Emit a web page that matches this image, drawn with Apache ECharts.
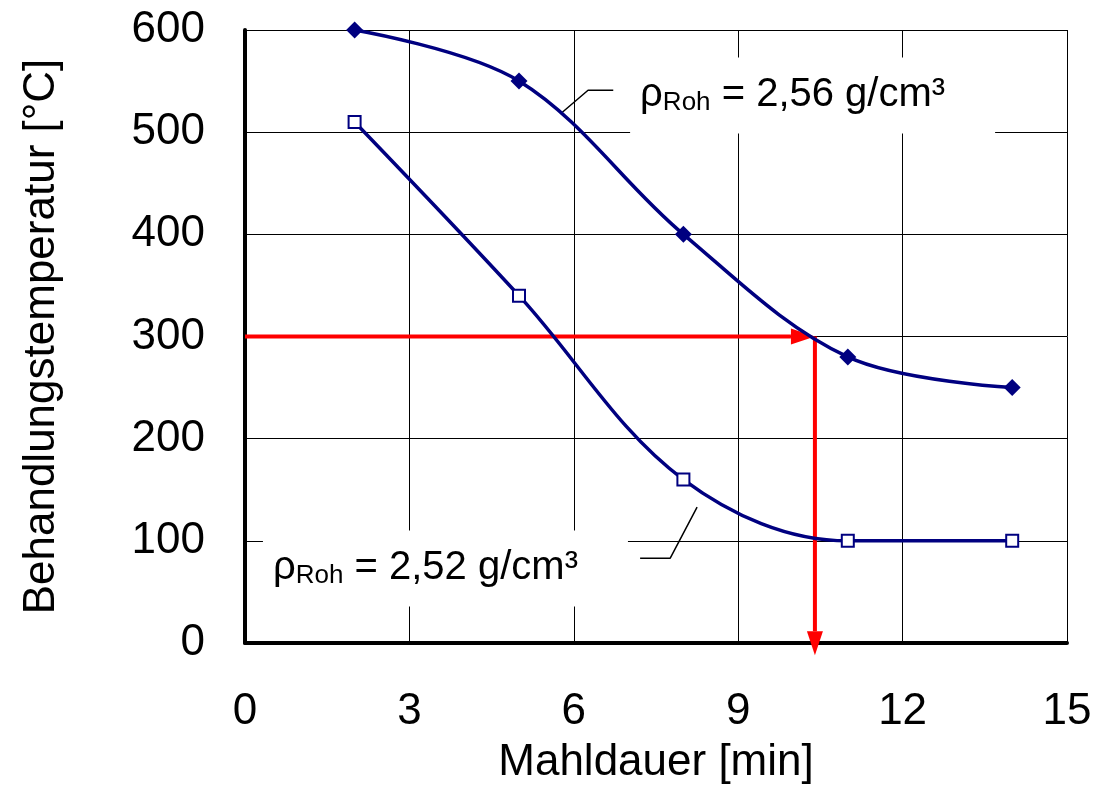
<!DOCTYPE html>
<html lang="de">

<head>
    <meta charset="UTF-8">
    <title>Behandlungstemperatur</title>
    <style>
        body {
            margin: 0;
            background: #fff;
        }

        #chart {
            width: 1102px;
            height: 798px;
        }
    </style>
</head>

<body>
    <div id="chart"></div>
    <script src="https://cdn.jsdelivr.net/npm/echarts@6/dist/echarts.min.js"></script>
    <script>
        const chart = echarts.init(document.getElementById('chart'));

        // Mahldauer [min]
        const mahldauer = [2, 5, 8, 11, 14];
        // Behandlungstemperatur [°C]
        const tempDense = [600, 550, 400, 280, 250];  // rho = 2,56
        const tempLoose = [510, 340, 160, 100, 100];  // rho = 2,52

        // red reading arrows: [x0, y0, x1, y1]
        const arrows = [
            [0, 300, 10.4, 300],
            [10.4, 300, 10.4, -12]
        ];

        // annotations
        const noteValues = ['2,56', '2,52'];
        const notePos = [[7.21, 536], [0.51, 73]];
        const leaderDense = [[5.78, 519], [6.26, 541], [6.72, 541]];
        const leaderLoose = [[8.25, 133], [7.76, 83], [7.21, 83]];

        const FONT = 'Liberation Sans, Arial, sans-serif';
        const NAVY = '#000080';

        function pairs(xs, ys) {
            return xs.map((x, i) => [x, ys[i]]);
        }

        function renderArrow(params, api) {
            const a = api.coord([api.value(0), api.value(1)]);
            const b = api.coord([api.value(2), api.value(3)]);
            const dx = b[0] - a[0];
            const dy = b[1] - a[1];
            const len = Math.sqrt(dx * dx + dy * dy);
            const ux = dx / len;
            const uy = dy / len;
            const head = 24;
            const half = 8;
            const bx = b[0] - ux * head;
            const by = b[1] - uy * head;
            return {
                type: 'group',
                children: [
                    {
                        type: 'line',
                        shape: { x1: a[0], y1: a[1], x2: bx, y2: by },
                        style: { stroke: '#ff0000', lineWidth: 4 }
                    },
                    {
                        type: 'polygon',
                        shape: {
                            points: [
                                [b[0], b[1]],
                                [bx - uy * half, by + ux * half],
                                [bx + uy * half, by - ux * half]
                            ]
                        },
                        style: { fill: '#ff0000' }
                    }
                ]
            };
        }

        function renderNote(params, api) {
            const p = api.coord([api.value(0), api.value(1)]);
            const val = noteValues[params.dataIndex];
            // white box behind the text, like the text frame in the original
            return {
                type: 'text',
                x: p[0] - 10,
                y: p[1],
                style: {
                    text: '{r|ρ}{s|Roh}{r| = ' + val + ' g/cm³}',
                    align: 'left',
                    verticalAlign: 'middle',
                    fill: '#000',
                    backgroundColor: '#fff',
                    padding: [18, 50, 18, 10],
                    rich: {
                        r: { fontSize: 40, fontFamily: FONT, fill: '#000' },
                        s: { fontSize: 26, fontFamily: FONT, fill: '#000', verticalAlign: 'bottom' }
                    }
                }
            };
        }

        function getOption() {
            return {
                backgroundColor: '#fff',
                animation: false,
                textStyle: { fontFamily: FONT },
                grid: {
                    left: 245,
                    right: 35,
                    top: 30,
                    bottom: 155
                },
                xAxis: {
                    type: 'value',
                    min: 0,
                    max: 15,
                    interval: 3,
                    name: 'Mahldauer [min]',
                    nameLocation: 'middle',
                    nameGap: 98,
                    nameTextStyle: { fontSize: 44, color: '#000', fontFamily: FONT },
                    axisLine: { show: true, lineStyle: { color: '#000', width: 4 } },
                    axisTick: { show: false },
                    axisLabel: { fontSize: 44, color: '#000', margin: 47, fontFamily: FONT },
                    splitLine: { show: true, lineStyle: { color: '#000', width: 1 } }
                },
                yAxis: {
                    type: 'value',
                    min: 0,
                    max: 600,
                    interval: 100,
                    name: 'Behandlungstemperatur [°C]',
                    nameLocation: 'middle',
                    nameGap: 181,
                    nameTextStyle: { fontSize: 44, color: '#000', fontFamily: FONT },
                    axisLine: { show: true, lineStyle: { color: '#000', width: 4 } },
                    axisTick: { show: false },
                    axisLabel: { fontSize: 44, color: '#000', margin: 40, fontFamily: FONT },
                    splitLine: { show: true, lineStyle: { color: '#000', width: 1 } }
                },
                series: [
                    {
                        type: 'custom',
                        name: 'arrows',
                        z: 1,
                        silent: true,
                        renderItem: renderArrow,
                        data: arrows
                    },
                    {
                        type: 'line',
                        name: 'leader 2,56',
                        z: 1,
                        silent: true,
                        symbol: 'none',
                        lineStyle: { color: '#000', width: 1.5 },
                        data: leaderDense
                    },
                    {
                        type: 'line',
                        name: 'leader 2,52',
                        z: 1,
                        silent: true,
                        symbol: 'none',
                        lineStyle: { color: '#000', width: 1.5 },
                        data: leaderLoose
                    },
                    {
                        type: 'line',
                        name: 'ρRoh = 2,56 g/cm³',
                        z: 3,
                        smooth: 0.35,
                        symbol: 'diamond',
                        symbolSize: 17,
                        itemStyle: { color: NAVY },
                        lineStyle: { color: NAVY, width: 3.5 },
                        data: pairs(mahldauer, tempDense)
                    },
                    {
                        type: 'line',
                        name: 'ρRoh = 2,52 g/cm³',
                        z: 3,
                        smooth: 0.35,
                        symbol: 'rect',
                        symbolSize: 12,
                        itemStyle: { color: '#fff', borderColor: NAVY, borderWidth: 2 },
                        lineStyle: { color: NAVY, width: 3.5 },
                        data: pairs(mahldauer, tempLoose)
                    },
                    {
                        type: 'custom',
                        name: 'notes',
                        z: 2,
                        silent: true,
                        renderItem: renderNote,
                        data: notePos
                    }
                ]
            };
        }

        chart.setOption(getOption());
    </script>
</body>

</html>
